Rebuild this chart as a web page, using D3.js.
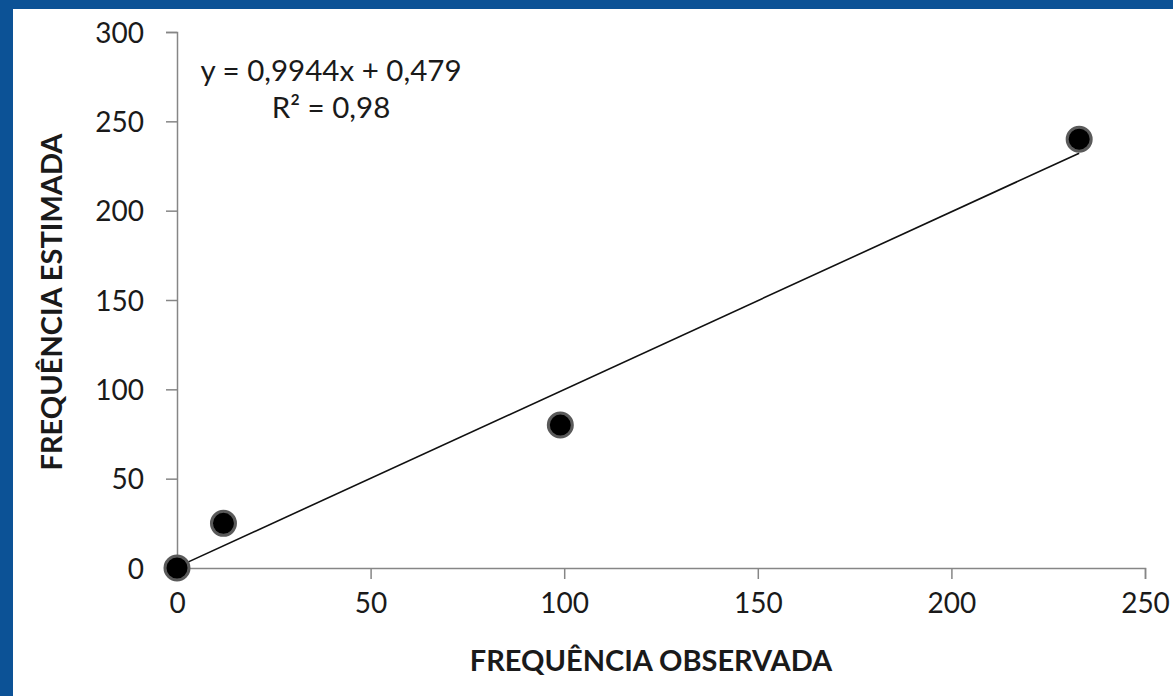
<!DOCTYPE html>
<html>
<head>
<meta charset="utf-8">
<script src="https://cdn.jsdelivr.net/npm/d3@7/dist/d3.min.js"></script>
<style>
  html, body { margin: 0; padding: 0; background: #0c5296; }
  svg { display: block; }
</style>
</head>
<body>
<div id="chart"></div>
<script>
// observed vs estimated frequency, with linear trendline
var observed = [0, 12, 99, 233];
var estimated = [0, 25, 80, 240];
var xTicks = [0, 50, 100, 150, 200, 250];
var yTicks = [0, 50, 100, 150, 200, 250, 300];
var slope = 0.9944, intercept = 0.479;
var eqLines = ['y = 0,9944x + 0,479', 'R² = 0,98'];

var width = 1173, height = 696;
var font = 'Lato, "Open Sans", sans-serif';
var axisColor = '#868686';

var svg = d3.select('#chart').append('svg')
      .attr('width', width)
      .attr('height', height);

// white panel inside the blue frame (frame only on top and left)
svg.append('rect')
      .attr('x', 13).attr('y', 9)
      .attr('width', width - 13).attr('height', height - 9)
      .attr('fill', '#fff');

var defs = svg.append('defs');
defs.append('filter').attr('id', 'soft')
      .attr('x', '-50%').attr('y', '-50%').attr('width', '200%').attr('height', '200%')
    .append('feGaussianBlur').attr('stdDeviation', 0.7);

var xScale = d3.scaleLinear().domain([0, 250]).range([177, 1145]);
var yScale = d3.scaleLinear().domain([0, 300]).range([568, 32]);

var xAxis = d3.axisBottom(xScale)
      .tickValues(xTicks)
      .tickSizeInner(11).tickSizeOuter(11)
      .tickPadding(14);
var yAxis = d3.axisLeft(yScale)
      .tickValues(yTicks)
      .tickSizeInner(11).tickSizeOuter(11)
      .tickPadding(22);

var gx = svg.append('g')
      .attr('transform', 'translate(0,' + yScale(0) + ')')
      .call(xAxis);
var gy = svg.append('g')
      .attr('transform', 'translate(' + xScale(0) + ',0)')
      .call(yAxis);

[gx, gy].forEach(function(g) {
  g.select('.domain').attr('stroke', axisColor).attr('stroke-width', 1.5);
  g.selectAll('.tick line').attr('stroke', axisColor).attr('stroke-width', 1.5);
  g.selectAll('.tick text')
        .attr('fill', '#1a1a1a')
        .style('font-family', font)
        .style('font-size', '28px');
});
gy.selectAll('.tick text').attr('dy', '0.36em');

// trendline over the observed range
var xExt = d3.extent(observed);
svg.append('line')
      .attr('x1', xScale(xExt[0]))
      .attr('y1', yScale(slope * xExt[0] + intercept))
      .attr('x2', xScale(xExt[1]))
      .attr('y2', yScale(slope * xExt[1] + intercept))
      .attr('stroke', '#111')
      .attr('stroke-width', 1.6);

// points
svg.append('g').selectAll('circle')
      .data(observed)
      .enter()
      .append('circle')
        .attr('cx', d => xScale(d))
        .attr('cy', (d, i) => yScale(estimated[i]))
        .attr('r', 12)
        .attr('fill', '#000')
        .attr('stroke', '#5a5a5a')
        .attr('stroke-width', 3)
        .attr('filter', 'url(#soft)');

// equation label
svg.append('g').selectAll('text')
      .data(eqLines)
      .enter()
      .append('text')
        .attr('x', 331)
        .attr('y', (d, i) => 81 + i * 37)
        .attr('text-anchor', 'middle')
        .attr('fill', '#1a1a1a')
        .style('font-family', font)
        .style('font-size', '29.5px')
        .text(d => d);

// axis titles
svg.append('text')
      .attr('x', 651)
      .attr('y', 671)
      .attr('text-anchor', 'middle')
      .attr('fill', '#1a1a1a')
      .style('font-family', font)
      .style('font-weight', 'bold')
      .style('font-size', '29px')
      .text('FREQUÊNCIA OBSERVADA');

svg.append('text')
      .attr('transform', 'translate(62,302) rotate(-90)')
      .attr('text-anchor', 'middle')
      .attr('fill', '#1a1a1a')
      .style('font-family', font)
      .style('font-weight', 'bold')
      .style('font-size', '29px')
      .text('FREQUÊNCIA ESTIMADA');
</script>
</body>
</html>
